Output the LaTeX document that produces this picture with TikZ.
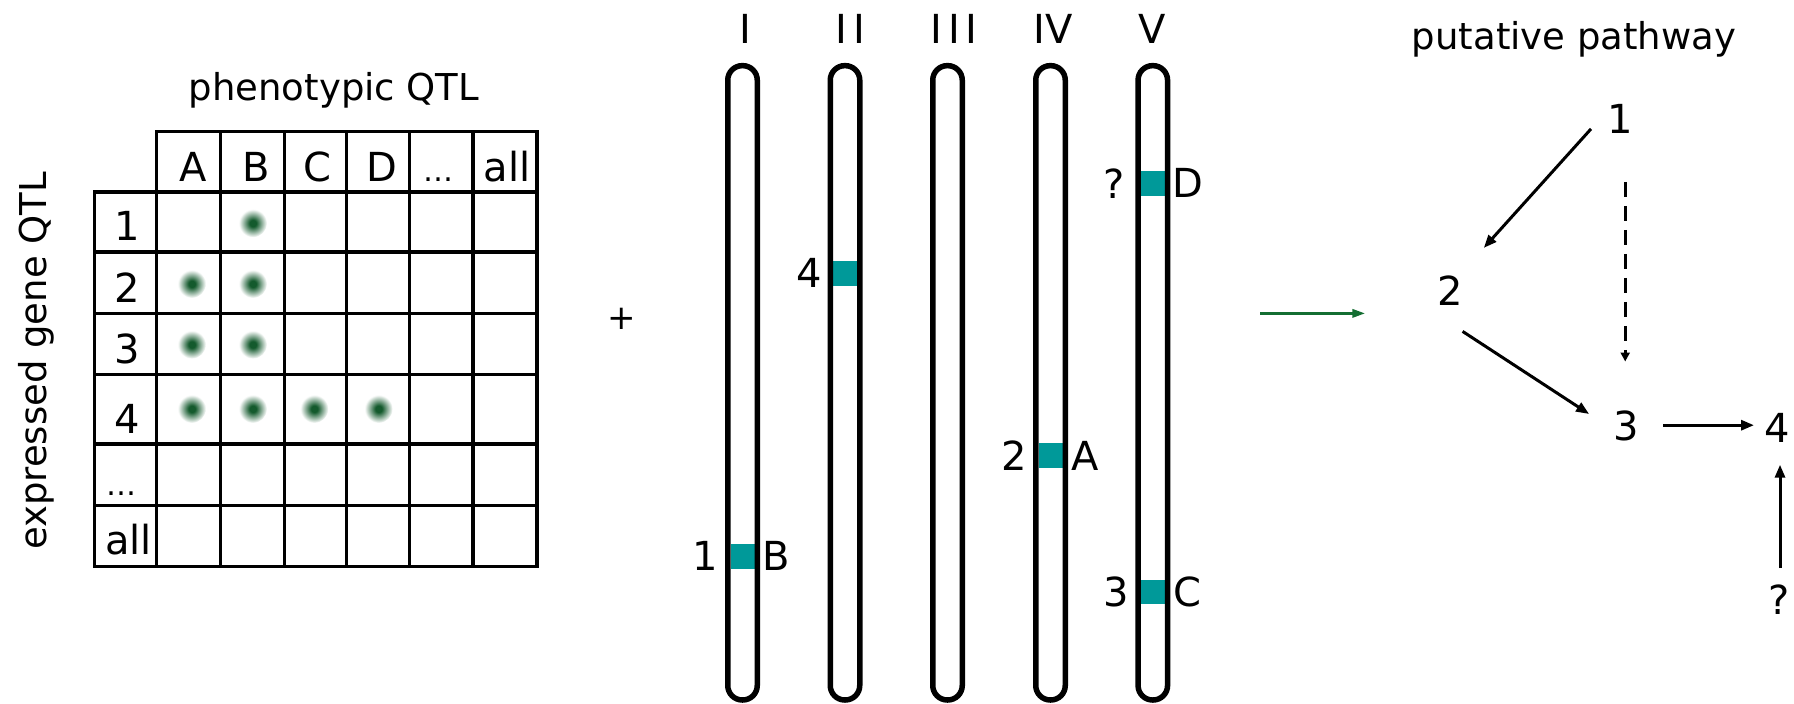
\documentclass[tikz,border=0pt]{standalone}
\usepackage{fontspec}
\setmainfont{DejaVu Sans}
\usetikzlibrary{arrows.meta}
\definecolor{qg}{RGB}{20,90,45}
\definecolor{qgmid}{RGB}{120,160,135}
\definecolor{bandcol}{RGB}{0,153,153}
\definecolor{garrow}{RGB}{20,110,50}
\pgfdeclareradialshading{qdot}{\pgfpoint{0bp}{0bp}}{color(0bp)=(qg);color(6bp)=(qg);color(14bp)=(qgmid);color(25bp)=(white);color(50bp)=(white)}
\begin{document}
\begin{tikzpicture}[x=1pt,y=-1pt,
  lab/.style={font=\fontsize{40}{40}\selectfont, inner sep=0pt},
  ttl/.style={font=\fontsize{37}{37}\selectfont, inner sep=0pt, anchor=base},
  gridline/.style={line width=3.5pt, line cap=rect},
  chromo/.style={line width=5.5pt, rounded corners=14.5pt},
  arr/.style={line width=3pt, -{Triangle[length=13pt,width=10pt]}},
  darr/.style={line width=3pt, dash pattern=on 15pt off 9pt, -{Triangle[length=9pt,width=9pt]}},
  garr/.style={line width=3pt, draw=garrow, -{Triangle[length=13pt,width=8pt]}},
  ]
\useasboundingbox[fill=white] (0,0) rectangle (1794,704);

% ---------- table ----------
\node[ttl] (tphen) at (334,100) {phenotypic QTL};
\node[ttl, rotate=90] (texpr) at (46.4,360.9) {expressed gene QTL};

\foreach \px/\py in {252.9/223.2, 191.8/283.9, 252.9/283.9, 191.8/344.6, 252.9/344.6,
                     191.8/408.9, 252.9/408.9, 314.3/408.9, 378.6/408.9}
  \shade[shading=qdot] (\px,\py) circle (14pt);

\draw[gridline] (156.4,131.4) -- (536.8,131.4);
\foreach \py in {192.1,252.1,313.6,374.3,443.9,505.7,566.4}
  \draw[gridline] (94.6,\py) -- (536.8,\py);
\draw[gridline] (94.6,192.1) -- (94.6,566.4);
\foreach \px in {156.4,220.4,284.6,346.4,409.3,473.2,536.8}
  \draw[gridline] (\px,131.4) -- (\px,566.4);

\node[lab, anchor=base] (hA) at (192.9,181.4) {A};
\node[lab, anchor=base] (hB) at (256,181.4) {B};
\node[lab, anchor=base] (hC) at (317.9,181.4) {C};
\node[lab, anchor=base] (hD) at (382,181.4) {D};
\node[lab, anchor=base, font=\fontsize{30}{30}\selectfont] (hdots) at (438.6,181.4) {…};
\node[lab, anchor=base] (hall) at (507,181.4) {all};

\node[lab, anchor=base] (r1) at (127.5,240.4) {1};
\node[lab, anchor=base] (r2) at (127.5,302.9) {2};
\node[lab, anchor=base] (r3) at (127.5,363.6) {3};
\node[lab, anchor=base] (r4) at (127.5,433.2) {4};
\node[lab, anchor=base, font=\fontsize{30}{30}\selectfont] (rdots) at (121.4,495.7) {…};
\node[lab, anchor=base] (rall) at (128.6,554.6) {all};

% ---------- plus ----------
\node[inner sep=0pt, font=\fontsize{34}{34}\selectfont] (plus) at (622,318.7) {+};

% ---------- chromosomes ----------
\fill[bandcol] (730.5,544.2) rectangle (754.5,568.5);
\fill[bandcol] (833,260.9) rectangle (857,285.6);
\fill[bandcol] (1038.5,443.2) rectangle (1062.5,467.9);
\fill[bandcol] (1140.8,171.1) rectangle (1164.8,195.8);
\fill[bandcol] (1140.8,580.2) rectangle (1164.8,604.4);
\foreach \cx in {742.5,845,947.5,1050.5,1152.8}
  \draw[chromo] (\cx-14.75,65.65) rectangle (\cx+14.75,700);

\node[lab, anchor=base] (cI) at (745,43.6) {I};
\node[lab, anchor=base] (cII) at (850.7,43.6) {I\kern6pt I};
\node[lab, anchor=base] (cIII) at (954,43.6) {I\kern6pt I\kern6pt I};
\node[lab, anchor=base] (cIV) at (1053.3,43.6) {IV};
\node[lab, anchor=base] (cV) at (1151.7,43.6) {V};

\node[lab] (b1) at (705,556) {1};
\node[lab] (bB) at (776.7,556) {B};
\node[lab] (b4) at (809.3,273) {4};
\node[lab] (b2) at (1014.3,455.5) {2};
\node[lab] (bA) at (1085,455.5) {A};
\node[lab] (bq) at (1114.3,183.4) {?};
\node[lab] (bD) at (1188,183.4) {D};
\node[lab] (b3) at (1116,592.3) {3};
\node[lab] (bC) at (1187,592.3) {C};

% ---------- green arrow ----------
\coordinate (g1) at (1260,313.4);
\coordinate (g2) at (1365.4,313.4);
\draw[garr] (g1) -- (g2);

% ---------- pathway ----------
\node[ttl] (tpath) at (1574,49.4) {putative pathway};
\node[lab] (p1) at (1620,119.4) {1};
\node[lab] (p2) at (1450,291) {2};
\node[lab] (p3) at (1626,425.5) {3};
\node[lab] (p4) at (1777,428) {4};
\node[lab] (pq) at (1779,600) {?};

\draw[arr] ([shift={(-29,9.5)}]p1.center) -- ([shift={(33.8,-43.1)}]p2.center);
\draw[darr] ([shift={(5.2,62.5)}]p1.center) -- ([shift={(-0.8,-64)}]p3.center);
\draw[arr] ([shift={(12.6,40.4)}]p2.center) -- ([shift={(-36.9,-11.5)}]p3.center);
\draw[arr] ([shift={(37,-0.3)}]p3.center) -- ([shift={(-23,-2.8)}]p4.center);
\draw[arr] ([shift={(1,-32)}]pq.center) -- ([shift={(3,36.7)}]p4.center);
\end{tikzpicture}
\end{document}
